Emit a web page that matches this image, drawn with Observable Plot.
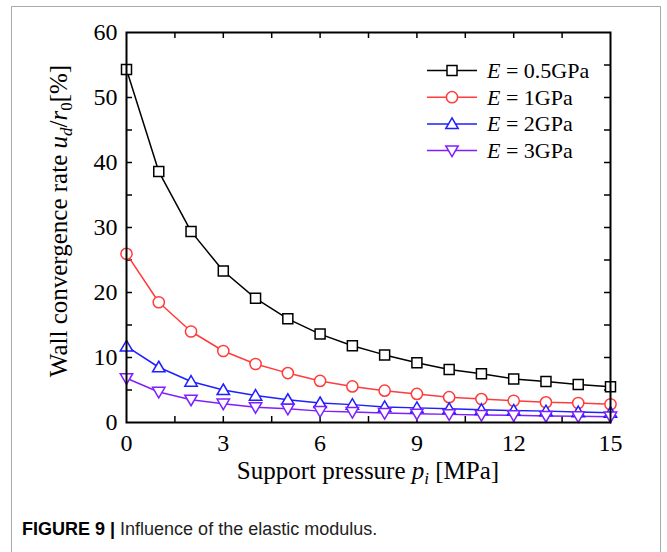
<!DOCTYPE html>
<html>
<head>
<meta charset="utf-8">
<script src="https://cdn.jsdelivr.net/npm/d3@7"></script>
<script src="https://cdn.jsdelivr.net/npm/@observablehq/plot@0.6"></script>
<style>
  html, body { margin: 0; padding: 0; background: #fff; overflow: hidden; width: 667px; height: 552px; }
  #wrap { position: relative; width: 667px; height: 552px; }
  #border { position: absolute; left: 11px; top: 6px; width: 648px; height: 620px; border: 1.5px solid #aaa; border-bottom: none; }
  #chart { position: absolute; left: 0; top: 0; }
  #caption { position: absolute; left: 22px; top: 519px; font-family: "Liberation Sans", Arial, sans-serif; font-size: 18px; line-height: 20px; color: #222; white-space: nowrap; }
  #caption b { color: #000; }
</style>
</head>
<body>
<div id="wrap">
  <div id="border"></div>
  <div id="chart"></div>
  <div id="caption"><b>FIGURE 9 |</b> Influence of the elastic modulus.</div>
</div>
<script>
// ---- data ----
const pressure = [0, 1, 2, 3, 4, 5, 6, 7, 8, 9, 10, 11, 12, 13, 14, 15];
const seriesNames = ["0.5GPa", "1GPa", "2GPa", "3GPa"];
const E05 = [54.3, 38.6, 29.4, 23.3, 19.1, 15.95, 13.6, 11.8, 10.4, 9.2, 8.15, 7.5, 6.7, 6.3, 5.85, 5.5];
const E1  = [25.95, 18.5, 14.0, 11.0, 9.0, 7.6, 6.4, 5.55, 4.9, 4.4, 3.9, 3.6, 3.35, 3.1, 3.0, 2.8];
const E2  = [11.7, 8.5, 6.3, 5.0, 4.15, 3.5, 3.0, 2.75, 2.4, 2.25, 2.1, 1.95, 1.85, 1.75, 1.6, 1.5];
const E3  = [6.8, 4.7, 3.5, 2.9, 2.35, 2.1, 1.75, 1.6, 1.45, 1.35, 1.25, 1.15, 1.1, 1.0, 0.95, 0.9];
const xTickLabels = [0, 3, 6, 9, 12, 15];
const yTickLabels = [0, 10, 20, 30, 40, 50, 60];
const xTicks = [1.5, 3, 4.5, 6, 7.5, 9, 10.5, 12, 13.5];
const yTicks = [5, 10, 15, 20, 25, 30, 35, 40, 45, 50, 55];

// ---- styles ----
const colors = ["#000000", "#ff3c3c", "#1f1fff", "#7f1fff"];
const sym = {
  square: {draw(c) { c.rect(-5, -5, 10, 10); }},
  circle: {draw(c) { c.moveTo(5.6, 0); c.arc(0, 0, 5.6, 0, 2 * Math.PI); }},
  up: {draw(c) { c.moveTo(0, -6); c.lineTo(6.2, 4.6); c.lineTo(-6.2, 4.6); c.closePath(); }},
  down: {draw(c) { c.moveTo(0, 6); c.lineTo(6.2, -4.6); c.lineTo(-6.2, -4.6); c.closePath(); }}
};
const symbols = [sym.square, sym.circle, sym.up, sym.down];
const allSeries = [E05, E1, E2, E3];

const W = 667, H = 490, mL = 126, mR = 57, mT = 32, mB = 68;
const plotW = W - mL - mR, plotH = H - mT - mB;
const tickLen = 6;

const seriesMarks = [];
allSeries.forEach((vals, i) => {
  const data = pressure.map((p, j) => ({p, v: vals[j]}));
  seriesMarks.push(Plot.line(data, {x: "p", y: "v", stroke: colors[i], strokeWidth: 1.5}));
});
allSeries.forEach((vals, i) => {
  const data = pressure.map((p, j) => ({p, v: vals[j]}));
  seriesMarks.push(Plot.dot(data, {x: "p", y: "v", symbol: symbols[i], r: 5, fill: "white", stroke: colors[i], strokeWidth: 1.5}));
});

const chart = Plot.plot({
  width: W, height: H,
  marginLeft: mL, marginRight: mR, marginTop: mT, marginBottom: mB,
  x: {domain: [0, 15]},
  y: {domain: [0, 60]},
  style: {fontFamily: "'Liberation Serif', 'Times New Roman', serif", background: "transparent", color: "black", overflow: "visible"},
  marks: [
    Plot.tickX(xTicks, {x: d => d, insetTop: plotH - tickLen, stroke: "black", strokeWidth: 1.5}),
    Plot.tickX(xTicks, {x: d => d, insetBottom: plotH - tickLen, stroke: "black", strokeWidth: 1.5}),
    Plot.tickY(yTicks, {y: d => d, insetRight: plotW - tickLen, stroke: "black", strokeWidth: 1.5}),
    Plot.tickY(yTicks, {y: d => d, insetLeft: plotW - tickLen, stroke: "black", strokeWidth: 1.5}),
    Plot.axisX(xTickLabels, {tickSize: 0, tickPadding: 11, fontSize: 24, label: null, fill: "black"}),
    Plot.axisY(yTickLabels, {tickSize: 0, tickPadding: 9, fontSize: 24, label: null, fill: "black"}),
    ...seriesMarks,
    Plot.frame({stroke: "black", strokeWidth: 2})
  ]
});
document.getElementById("chart").appendChild(chart);

const svg = d3.select(chart);
const serif = "'Liberation Serif', 'Times New Roman', serif";

// x-axis title
const xt = svg.append("text")
  .attr("x", mL + plotW / 2).attr("y", 479)
  .attr("text-anchor", "middle").attr("font-family", serif).attr("font-size", 25).attr("fill", "black");
xt.append("tspan").text("Support pressure ");
xt.append("tspan").attr("font-style", "italic").text("p");
xt.append("tspan").attr("font-style", "italic").attr("font-size", 17).attr("dy", 5).text("i");
xt.append("tspan").attr("dy", -5).text(" [MPa]");

// y-axis title
const yt = svg.append("text")
  .attr("transform", "translate(67,221) rotate(-90)")
  .attr("text-anchor", "middle").attr("font-family", serif).attr("font-size", 25).attr("fill", "black");
yt.append("tspan").text("Wall convergence rate ");
yt.append("tspan").attr("font-style", "italic").text("u");
yt.append("tspan").attr("font-style", "italic").attr("font-size", 17).attr("dy", 5).text("d");
yt.append("tspan").attr("dy", -5).text("/");
yt.append("tspan").attr("font-style", "italic").text("r");
yt.append("tspan").attr("font-size", 17).attr("dy", 5).text("0");
yt.append("tspan").attr("dy", -5).text("[%]");

// legend
const legY0 = 70.5, legDy = 26.7;
seriesNames.forEach((name, i) => {
  const y = legY0 + i * legDy;
  const g = svg.append("g");
  g.append("line").attr("x1", 427).attr("x2", 477).attr("y1", y).attr("y2", y)
    .attr("stroke", colors[i]).attr("stroke-width", 1.5);
  const p = d3.path();
  symbols[i].draw(p);
  g.append("path").attr("d", p.toString()).attr("transform", `translate(452,${y})`)
    .attr("fill", "white").attr("stroke", colors[i]).attr("stroke-width", 1.5);
  const t = g.append("text").attr("x", 487).attr("y", y + 7.5)
    .attr("text-anchor", "start")
    .attr("font-family", serif).attr("font-size", 22).attr("fill", "black");
  t.append("tspan").attr("font-style", "italic").text("E");
  t.append("tspan").text(" = " + name);
});
</script>
</body>
</html>
